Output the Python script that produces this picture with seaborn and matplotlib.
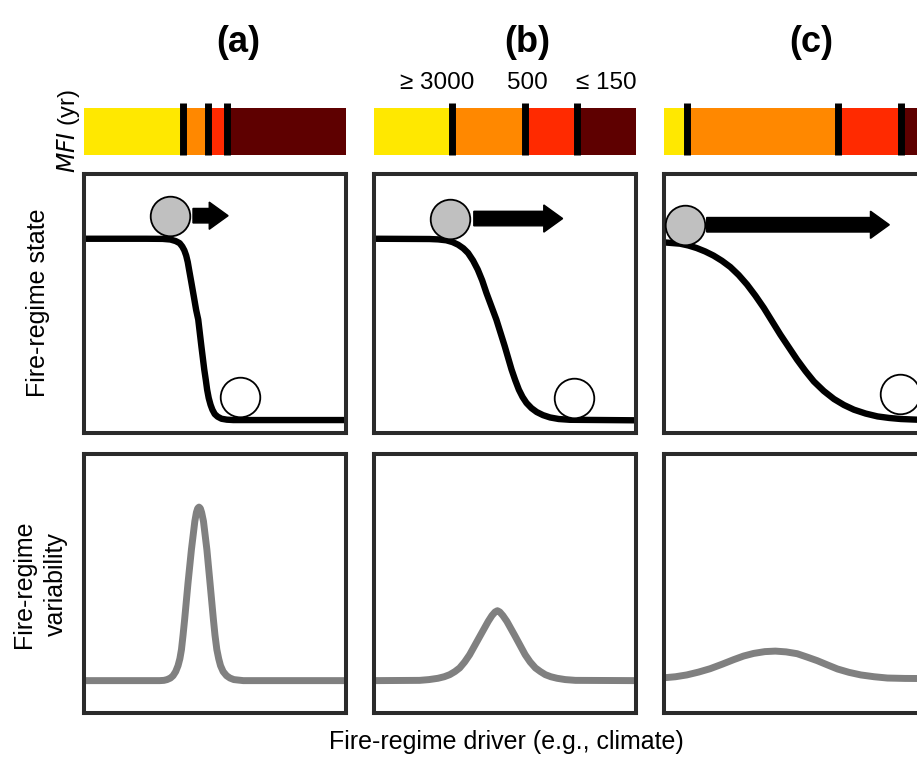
import matplotlib
matplotlib.use("Agg")
import matplotlib.pyplot as plt
import seaborn as sns

# ---- data (panel coords: 0..100 in x and y) ----
panel_titles = ["(a)", "(b)", "(c)"]

# MFI bar: colour segment boundaries (percent of panel width)
mfi_colors = ["#FFE800", "#FF8800", "#FF2A00", "#5E0000"]
mfi_bounds_a = [37.9, 47.5, 54.4]
mfi_bounds_b = [29.9, 57.5, 77.4]
mfi_bounds_c = [8.8, 66.4, 90.4]
mfi_labels = ["\u2265 3000", "500", "\u2264 150"]
mfi_label_x = [24.0, 58.5, 88.5]

# fire-regime state curves
state_x_a = [0, 23.8, 30.0, 33.0, 35.0, 36.5, 37.5, 38.3, 39.0, 39.6, 40.1, 41.0, 41.9, 42.8, 43.6,
             44.8, 45.9, 46.5, 47.0, 47.6, 48.3, 49.0, 49.9, 51.0, 52.5, 54.5, 57.0, 100]
state_y_a = [75.0, 75.0, 74.95, 74.7, 74.1, 73.3, 72.0, 70.5, 68.5, 66.0, 63.1, 58.0, 52.8, 47.5, 43.8,
             33.5, 24.5, 20.4, 16.7, 13.5, 10.9, 9.0, 7.3, 6.3, 5.5, 5.15, 5.0, 5.0]
state_x_b = [0, 21.2, 24.5, 27.6, 30.0, 32.1, 34.1, 35.9, 37.8, 39.6, 41.3, 42.9, 46.7, 49.9,
             52.5, 53.9, 55.3, 56.7, 58.2, 60.1, 62.1, 64.5, 67.2, 70.5, 74.8, 100]
state_y_b = [75.0, 74.9, 74.75, 74.4, 73.7, 72.7, 71.3, 69.5, 66.6, 63.1, 58.9, 54.1, 43.8, 33.5,
             24.5, 20.4, 16.7, 13.9, 11.6, 9.6, 8.1, 6.9, 6.0, 5.4, 5.1, 4.9]
state_x_c = [0, 6.1, 9.3, 12.5, 15.7, 18.9, 22.1, 25.3, 28.5, 31.7, 34.9, 38.1, 44.4, 50.8,
             54.0, 57.2, 61.0, 64.9, 68.7, 72.5, 77.0, 81.5, 86.0, 90.4, 100]
state_y_c = [73.6, 73.1, 72.4, 71.4, 70.1, 68.5, 66.5, 64.1, 61.0, 57.3, 53.0, 48.3, 38.0, 28.3,
             23.9, 19.9, 16.2, 13.1, 10.8, 9.0, 7.5, 6.4, 5.8, 5.4, 5.0]

# balls (grey = current state, white = alternative state) and arrows
grey_ball_x = [32.7, 29.1, 8.0]
grey_ball_y = [83.9, 82.8, 80.4]
white_ball_x = [59.5, 76.5, 90.2]
white_ball_y = [13.8, 13.4, 15.2]
arrow_start = [41.6, 38.1, 16.3]
arrow_end = [55.0, 72.0, 86.0]

# fire-regime variability curves
var_x_a = [0, 28.9, 30.5, 31.7, 33.0, 34.0, 35.0, 35.9, 36.6, 37.2, 37.8, 38.4, 39.7, 41.0, 42.3,
           42.9, 43.4, 43.9, 44.4, 44.9, 45.6, 46.9, 48.1, 49.4, 50.0, 50.7, 51.4, 52.1, 53.1,
           54.4, 55.7, 57.2, 60.8, 100]
var_y_a = [12.5, 12.5, 12.6, 12.9, 13.5, 14.4, 16.0, 18.3, 21.0, 24.5, 30.0, 36.0, 50.2, 63.1, 74.0,
           77.4, 79.0, 79.5, 79.0, 77.4, 74.0, 63.1, 50.2, 36.0, 30.0, 24.5, 21.0, 18.3, 16.0,
           14.4, 13.5, 12.9, 12.5, 12.5]
var_x_b = [0, 17.4, 21.0, 24.4, 26.8, 28.9, 30.9, 32.7, 34.6, 36.5, 40.4, 43.6, 45.0, 46.2, 47.1,
           48.0, 49.2, 50.7, 53.9, 57.7, 59.6, 61.6, 63.5, 65.4, 67.5, 69.9, 73.0, 76.9, 100]
var_y_b = [12.5, 12.6, 12.9, 13.4, 14.0, 14.8, 16.0, 17.4, 19.7, 22.5, 29.6, 35.4, 37.6, 39.0, 39.5,
           39.0, 37.6, 35.4, 29.6, 22.5, 19.7, 17.4, 16.0, 14.8, 14.0, 13.4, 12.9, 12.6, 12.5]
var_x_c = [0, 4.4, 8.7, 13.2, 17.6, 22.1, 26.6, 30.4, 34.2, 38.5, 42.5, 46.6, 50.8, 54.6, 58.5,
           62.3, 66.2, 70.6, 75.1, 80.2, 85.3, 92.0, 100]
var_y_c = [13.6, 14.0, 14.7, 15.8, 17.1, 18.8, 20.6, 22.0, 23.0, 23.7, 23.9, 23.6, 22.9, 21.6, 20.2,
           18.6, 17.0, 15.7, 14.7, 14.0, 13.5, 13.35, 13.3]

# ---- layout ----
sns.set_theme(style="white")
plt.rcParams['font.family'] = ['Liberation Sans', 'DejaVu Sans']
plt.rcParams['text.color'] = 'black'

W, H = 917, 757
fig = plt.figure(figsize=(W / 100, H / 100), dpi=100)


def add_ax(x0, y0, w, h):
    # pixel box (top-left origin) -> figure fraction
    return fig.add_axes([x0 / W, (H - y0 - h) / H, w / W, h / H])


col_left = [84, 374, 664]
box_w = 262

all_bounds = [mfi_bounds_a, mfi_bounds_b, mfi_bounds_c]
state_xs = [state_x_a, state_x_b, state_x_c]
state_ys = [state_y_a, state_y_b, state_y_c]
var_xs = [var_x_a, var_x_b, var_x_c]
var_ys = [var_y_a, var_y_b, var_y_c]

ball_size = 28.5 ** 2

for i, x0 in enumerate(col_left):
    # MFI colour bar
    bax = add_ax(x0, 108, box_w, 47)
    edges = [0] + all_bounds[i] + [100]
    starts = edges[:-1]
    widths = [edges[k + 1] - edges[k] for k in range(4)]
    bax.barh([0.5] * 4, widths, left=starts, height=1, color=mfi_colors, linewidth=0)
    bax.vlines(all_bounds[i], 0, 1.11, color="black", linewidth=5, clip_on=False)
    bax.set_xlim(0, 100)
    bax.set_ylim(0, 1)
    bax.axis("off")
    if i == 1:
        for lab, lx in zip(mfi_labels, mfi_label_x):
            bax.text(lx, 1.3, lab, ha="center", va="bottom", fontsize=17.5,
                     color="black", clip_on=False)

    # fire-regime state panel
    sax = add_ax(x0, 174, box_w, 259)
    sns.lineplot(x=state_xs[i], y=state_ys[i], ax=sax, color="black", linewidth=4.6,
                 sort=False, solid_joinstyle="round", solid_capstyle="butt")
    sax.arrow(arrow_start[i], grey_ball_y[i], arrow_end[i] - arrow_start[i], 0,
              width=5.6, head_width=10.5, head_length=7.2, length_includes_head=True,
              color="black", zorder=4)
    sns.scatterplot(x=[grey_ball_x[i]], y=[grey_ball_y[i]], ax=sax, s=ball_size,
                    color="#C0C0C0", edgecolor="black", linewidth=1.3, zorder=5, clip_on=False)
    sns.scatterplot(x=[white_ball_x[i]], y=[white_ball_y[i]], ax=sax, s=ball_size,
                    color="white", edgecolor="black", linewidth=1.3, zorder=5, clip_on=False)

    # fire-regime variability panel
    vax = add_ax(x0, 454, box_w, 259)
    sns.lineplot(x=var_xs[i], y=var_ys[i], ax=vax, color="#808080", linewidth=5,
                 sort=False, solid_joinstyle="round")

    for ax in (sax, vax):
        ax.set_xlim(0, 100)
        ax.set_ylim(0, 100)
        ax.set_xticks([])
        ax.set_yticks([])
        ax.set_xlabel("")
        ax.set_ylabel("")
        for sp in ax.spines.values():
            sp.set_visible(True)
            sp.set_color("#2b2b2b")
            sp.set_linewidth(2.9)

# titles and axis labels
title_x = [238, 527, 811]
for t, tx in zip(panel_titles, title_x):
    fig.text(tx / W, 1 - 42 / H, t, ha="center", va="center", fontsize=26, fontweight="bold")

fig.text(68 / W, 1 - 131 / H, "$\\it{MFI}$ (yr)", rotation=90, ha="center", va="center", fontsize=17)
fig.text(38 / W, 1 - 303 / H, "Fire-regime state", rotation=90, ha="center", va="center", fontsize=18)
fig.text(40 / W, 1 - 584 / H, "Fire-regime\nvariability", rotation=90, ha="center", va="center",
         fontsize=18, linespacing=1.45)
fig.text(506 / W, 1 - 742 / H, "Fire-regime driver (e.g., climate)", ha="center", va="center", fontsize=18)

fig.savefig("out.png", dpi=100)
